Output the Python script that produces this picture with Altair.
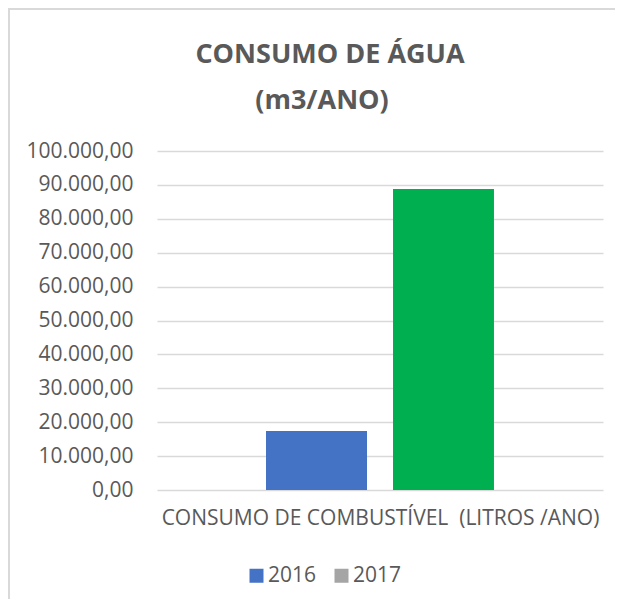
import altair as alt
import pandas as pd

# --- data ---
years = ["2016", "2017"]
values = [17400, 88800]
bar_colors = ["#4472C4", "#00B050"]
legend_colors = ["#4472C4", "#A5A5A5"]
y_ticks = [0, 10000, 20000, 30000, 40000, 50000, 60000, 70000, 80000, 90000, 100000]
title_lines = ["CONSUMO DE ÁGUA", "(m3/ANO)"]
x_title = "CONSUMO DE COMBUSTÍVEL\u00a0\u00a0(LITROS /ANO)"

df = pd.DataFrame({"year": years, "value": values, "fill": bar_colors})

W, H = 446, 339
PL, PT, PR, PB = 149, 143, 12, 109
TXT = "#595959"
FONT = "Open Sans"

label_expr = ("join(split(join(split(join(split(format(datum.value, ',.2f'), ','), '#'), '.'), ','), '#'), '.')")

x_enc = alt.X("year:N", title=x_title,
              scale=alt.Scale(paddingInner=0.205, paddingOuter=0.859),
              axis=alt.Axis(labels=False, ticks=False, domain=False,
                            titleFontSize=21, titleFont=FONT, titleColor=TXT,
                            titleFontWeight="normal", titlePadding=17))
y_enc = alt.Y("value:Q", title=None,
              scale=alt.Scale(domain=[0, 100000]),
              axis=alt.Axis(values=y_ticks, labelExpr=label_expr, ticks=False,
                            domain=False, labelFontSize=21, labelFont=FONT,
                            labelColor=TXT, labelPadding=24, labelOverlap=False,
                            gridColor="#D9D9D9", gridWidth=1.5))

# series colours as in the legend
legend_bars = alt.Chart(df).mark_bar().encode(
    x=x_enc, y=y_enc,
    color=alt.Color("year:N",
                    scale=alt.Scale(domain=years, range=legend_colors),
                    legend=alt.Legend(title=None, orient="none", direction="horizontal",
                                      legendX=89, legendY=414, symbolType="square",
                                      symbolSize=196, symbolStrokeWidth=0,
                                      labelFontSize=21, labelFont=FONT,
                                      labelColor=TXT, labelOffset=1,
                                      columnPadding=14, padding=0)),
)
# individually recoloured data points, drawn on top (same axes so they merge)
point_bars = alt.Chart(df).mark_bar().encode(
    x=x_enc, y=y_enc,
    fill=alt.Fill("fill:N", scale=None),
)

one = pd.DataFrame({"a": [0]})
left_border = alt.Chart(one).mark_rule(color="#D9D9D9", strokeWidth=2).encode(
    x=alt.value(-PL + 1), y=alt.value(-PT), y2=alt.value(H + PB))
top_border = alt.Chart(one).mark_rule(color="#D9D9D9", strokeWidth=2).encode(
    x=alt.value(-PL), x2=alt.value(W + PR), y=alt.value(-PT + 1))

title1 = alt.Chart(one).mark_text(font=FONT, fontSize=27, fontWeight="bold", color=TXT,
                                  align="center", baseline="alphabetic").encode(
    text=alt.value(title_lines[0]), x=alt.value(173), y=alt.value(-88))
title2 = alt.Chart(one).mark_text(font=FONT, fontSize=27, fontWeight="bold", color=TXT,
                                  align="center", baseline="alphabetic").encode(
    text=alt.value(title_lines[1]), x=alt.value(165), y=alt.value(-42))

chart = alt.layer(legend_bars, point_bars, left_border, top_border, title1, title2).properties(
    width=W, height=H,
    autosize=alt.AutoSizeParams(type="none"),
    padding={"left": PL, "top": PT, "right": PR, "bottom": PB},
).configure_view(stroke=None)

chart.save("out.html", embed_options={"renderer": "svg", "actions": False})
